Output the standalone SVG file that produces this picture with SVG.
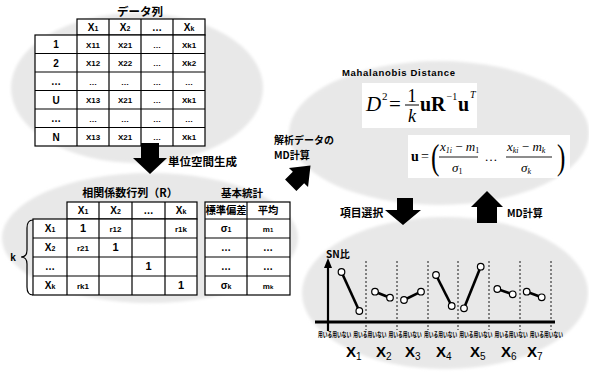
<svg xmlns="http://www.w3.org/2000/svg" width="589" height="372" viewBox="0 0 589 372">
<defs>
<filter id="soft" x="-10%" y="-10%" width="120%" height="120%"><feGaussianBlur stdDeviation="1.5"/></filter>
<style>
.bg{fill:#e8e8e8;filter:url(#soft)}
.cell{fill:#fff;stroke:#000;stroke-width:1.2}
.ln{stroke:#000;stroke-width:1.2;fill:none}
.t{font-family:"Liberation Sans",Arial,sans-serif;font-weight:bold;fill:#000;text-anchor:middle}
.s8{font-size:8px}
.s10{font-size:10px}
.j{font-family:"Noto Sans CJK JP",sans-serif;font-weight:bold;fill:#000}
.m{font-family:"Liberation Serif","Times New Roman",serif;fill:#000}
.dot{stroke:#000;stroke-width:0.9;stroke-dasharray:2 2}
.seg{stroke:#000;stroke-width:2.6}
.pt{fill:#fff;stroke:#000;stroke-width:1.2}
.arr{fill:#000}
.lab{font-family:"Noto Sans CJK JP",sans-serif;font-weight:bold;font-size:7px;fill:#000}
.xl{font-family:"Liberation Sans",Arial,sans-serif;font-weight:bold;font-size:15px;fill:#000}
</style>
</defs>

<!-- background ellipses -->
<ellipse class="bg" cx="137" cy="88" rx="126" ry="75"/>
<ellipse class="bg" cx="150" cy="238" rx="148" ry="65"/>
<ellipse class="bg" cx="439" cy="133" rx="150" ry="72"/>
<ellipse class="bg" cx="445" cy="293" rx="143" ry="76"/>

<!-- Data table -->
<g id="data-table">
<text class="j" x="140" y="16" font-size="11.5" text-anchor="middle">データ列</text>
<rect class="cell" x="77" y="19" width="128" height="16"/>
<rect class="cell" x="35" y="35" width="170" height="111"/>
<path class="ln" d="M109,19V146M141,19V146M173,19V146M77,35V146"/>
<path class="ln" d="M35,53.5H205M35,72H205M35,90.5H205M35,109H205M35,127.5H205"/>
<g class="t s10">
<text x="93" y="31">X<tspan font-size="7">1</tspan></text>
<text x="125" y="31">X<tspan font-size="7">2</tspan></text>
<text x="157" y="31">…</text>
<text x="189" y="31">X<tspan font-size="7">k</tspan></text>
<text x="56" y="48">1</text>
<text x="56" y="66.5">2</text>
<text x="56" y="85">…</text>
<text x="56" y="103.5">U</text>
<text x="56" y="122">…</text>
<text x="56" y="140.5">N</text>
</g>
<g class="t s8">
<text x="93" y="47.5">X11</text><text x="125" y="47.5">X21</text><text x="157" y="47.5">…</text><text x="189" y="47.5">Xk1</text>
<text x="93" y="66">X12</text><text x="125" y="66">X22</text><text x="157" y="66">…</text><text x="189" y="66">Xk2</text>
<text x="93" y="84.5">…</text><text x="125" y="84.5">…</text><text x="157" y="84.5">…</text><text x="189" y="84.5">…</text>
<text x="93" y="103">X13</text><text x="125" y="103">X21</text><text x="157" y="103">…</text><text x="189" y="103">Xk1</text>
<text x="93" y="121.5">…</text><text x="125" y="121.5">…</text><text x="157" y="121.5">…</text><text x="189" y="121.5">…</text>
<text x="93" y="140">X13</text><text x="125" y="140">X21</text><text x="157" y="140">…</text><text x="189" y="140">Xk1</text>
</g>
</g>

<!-- Correlation matrix -->
<g id="corr-matrix">
<text class="j" x="130" y="197" font-size="11" text-anchor="middle">相関係数行列（R）</text>
<rect class="cell" x="67" y="202" width="130" height="17"/>
<rect class="cell" x="33" y="219" width="164" height="76"/>
<path class="ln" d="M99,202V295M132,202V295M165,202V295M67,219V295"/>
<path class="ln" d="M33,238H197M33,257H197M33,276H197"/>
<g class="t s10">
<text x="83" y="214">X<tspan font-size="7">1</tspan></text>
<text x="115.5" y="214">X<tspan font-size="7">2</tspan></text>
<text x="148.5" y="214">…</text>
<text x="181" y="214">X<tspan font-size="7">k</tspan></text>
<text x="50" y="232">X<tspan font-size="7">1</tspan></text>
<text x="50" y="251">X<tspan font-size="7">2</tspan></text>
<text x="50" y="270">…</text>
<text x="50" y="289">X<tspan font-size="7">k</tspan></text>
<text x="83" y="232" font-size="11">1</text>
<text x="115.5" y="251" font-size="11">1</text>
<text x="148.5" y="270" font-size="11">1</text>
<text x="181" y="289" font-size="11">1</text>
</g>
<g class="t s8">
<text x="115.5" y="232">r12</text><text x="181" y="232">r1k</text>
<text x="83" y="251">r21</text>
<text x="83" y="289">rk1</text>
</g>
<path class="ln" d="M33,220Q27,220 27,228V250Q27,257 21,257Q27,257 27,264V287Q27,295 33,295"/>
<text class="t s10" x="13" y="261">k</text>
</g>

<!-- Basic statistics -->
<g id="basic-stats">
<text class="j" x="242" y="197" font-size="10.5" text-anchor="middle">基本統計</text>
<rect class="cell" x="205" y="202" width="85" height="93"/>
<path class="ln" d="M247,202V295M205,219H290M205,238H290M205,257H290M205,276H290"/>
<text class="j" x="226" y="214" font-size="10.3" text-anchor="middle">標準偏差</text>
<text class="j" x="268" y="214" font-size="10.3" text-anchor="middle">平均</text>
<g class="t s10">
<text x="226" y="232">σ<tspan font-size="7">1</tspan></text>
<text x="268" y="232" font-size="8">m<tspan font-size="6">1</tspan></text>
<text x="226" y="251">…</text><text x="268" y="251">…</text>
<text x="226" y="270">…</text><text x="268" y="270">…</text>
<text x="226" y="289">σ<tspan font-size="7">k</tspan></text>
<text x="268" y="289" font-size="8">m<tspan font-size="6">k</tspan></text>
</g>
</g>

<!-- Mahalanobis distance -->
<g id="mahalanobis">
<text x="342" y="76" font-family="Liberation Sans,Arial,sans-serif" font-weight="bold" font-size="9.5" textLength="113" lengthAdjust="spacing">Mahalanobis Distance</text>
<rect x="362" y="83" width="115" height="45" fill="#fff"/>
<g class="m">
<text x="366" y="111" font-size="21" font-style="italic">D</text>
<text x="382" y="100" font-size="11">2</text>
<text x="389" y="111" font-size="21">=</text>
<text x="412" y="102" font-size="18" text-anchor="middle">1</text>
<line x1="405" y1="105" x2="419" y2="105" stroke="#000" stroke-width="1"/>
<text x="412" y="122" font-size="18" font-style="italic" text-anchor="middle">k</text>
<text x="420" y="111" font-size="20" font-weight="bold">uR</text>
<text x="446.5" y="100" font-size="10">−1</text>
<text x="458" y="111" font-size="20" font-weight="bold">u</text>
<text x="470" y="98" font-size="10" font-style="italic">T</text>
</g>
<rect x="408" y="135" width="162" height="43" fill="#fff"/>
<g class="m">
<text x="411" y="161" font-size="14" font-weight="bold">u</text>
<text x="421" y="161" font-size="14">=</text>
<text x="431" y="169" font-size="36" transform="translate(431,160) scale(0.7,1) translate(-431,-160)">(</text>
<text x="440" y="151" font-size="13" font-style="italic">x<tspan font-size="8" dy="2">1i</tspan><tspan dy="-2" font-style="normal"> − </tspan>m<tspan font-size="8" dy="2" font-style="normal">1</tspan></text>
<line x1="439" y1="157" x2="478" y2="157" stroke="#000" stroke-width="0.9"/>
<text x="452" y="172" font-size="13" font-style="italic">σ<tspan font-size="8" dy="2" font-style="normal">1</tspan></text>
<text x="491" y="161" font-size="13" text-anchor="middle">…</text>
<text x="507" y="151" font-size="13" font-style="italic">x<tspan font-size="8" dy="2">ki</tspan><tspan dy="-2" font-style="normal"> − </tspan>m<tspan font-size="8" dy="2">k</tspan></text>
<line x1="506" y1="157" x2="552" y2="157" stroke="#000" stroke-width="0.9"/>
<text x="521" y="172" font-size="13" font-style="italic">σ<tspan font-size="8" dy="2">k</tspan></text>
<text x="557" y="169" font-size="36" transform="translate(557,160) scale(0.7,1) translate(-557,-160)">)</text>
</g>
</g>

<!-- SN chart -->
<g id="sn-chart">
<text class="j" x="326" y="258" font-size="10">SN比</text>
<path d="M328,331V266" stroke="#000" stroke-width="2.2"/>
<path d="M324,268L328,258L332,268Z" fill="#000"/>
<path d="M315,322H555" stroke="#000" stroke-width="3"/>
<g class="dot">
<line x1="366" y1="261" x2="366" y2="330"/>
<line x1="397" y1="261" x2="397" y2="330"/>
<line x1="428" y1="261" x2="428" y2="330"/>
<line x1="458" y1="261" x2="458" y2="330"/>
<line x1="489" y1="261" x2="489" y2="330"/>
<line x1="520" y1="261" x2="520" y2="330"/>
<line x1="551" y1="261" x2="551" y2="330"/>
</g>
<g class="seg">
<line x1="341.5" y1="272" x2="359.3" y2="311"/>
<line x1="375" y1="291.7" x2="390" y2="297.7"/>
<line x1="404" y1="300" x2="421" y2="291.7"/>
<line x1="436" y1="275" x2="451.7" y2="306"/>
<line x1="464" y1="308.3" x2="480.7" y2="266.7"/>
<line x1="497.3" y1="289" x2="512.7" y2="294.3"/>
<line x1="526.7" y1="291.7" x2="541.7" y2="297.3"/>
</g>
<g class="pt">
<circle cx="341.5" cy="272" r="3.3"/><circle cx="359.3" cy="311" r="3.3"/>
<circle cx="375" cy="291.7" r="3.3"/><circle cx="390" cy="297.7" r="3.3"/>
<circle cx="404" cy="300" r="3.3"/><circle cx="421" cy="291.7" r="3.3"/>
<circle cx="436" cy="275" r="3.3"/><circle cx="451.7" cy="306" r="3.3"/>
<circle cx="464" cy="308.3" r="3.3"/><circle cx="480.7" cy="266.7" r="3.3"/>
<circle cx="497.3" cy="289" r="3.3"/><circle cx="512.7" cy="294.3" r="3.3"/>
<circle cx="526.7" cy="291.7" r="3.3"/><circle cx="541.7" cy="297.3" r="3.3"/>
</g>
<g class="lab">
<text transform="matrix(0.68,0,0,1,318,337)">用いる用いない</text>
<text transform="matrix(0.68,0,0,1,353.3,337)">用いる用いない</text>
<text transform="matrix(0.68,0,0,1,388.6,337)">用いる用いない</text>
<text transform="matrix(0.68,0,0,1,423.9,337)">用いる用いない</text>
<text transform="matrix(0.68,0,0,1,459.2,337)">用いる用いない</text>
<text transform="matrix(0.68,0,0,1,494.5,337)">用いる用いない</text>
<text transform="matrix(0.68,0,0,1,529.8,337)">用いる用いない</text>
</g>
<g class="xl">
<text x="346" y="357">X<tspan font-size="10" font-weight="normal" dy="3">1</tspan></text>
<text x="376" y="357">X<tspan font-size="10" font-weight="normal" dy="3">2</tspan></text>
<text x="405" y="357">X<tspan font-size="10" font-weight="normal" dy="3">3</tspan></text>
<text x="436" y="357">X<tspan font-size="10" font-weight="normal" dy="3">4</tspan></text>
<text x="470" y="357">X<tspan font-size="10" font-weight="normal" dy="3">5</tspan></text>
<text x="501" y="357">X<tspan font-size="10" font-weight="normal" dy="3">6</tspan></text>
<text x="527" y="357">X<tspan font-size="10" font-weight="normal" dy="3">7</tspan></text>
</g>
</g>

<!-- connectors -->
<g id="connectors">
<polygon class="arr" points="141,143 159,143 159,158 167,158 150,174 133,158 141,158"/>
<text class="j" x="168" y="166" font-size="11.5">単位空間生成</text>
<polygon class="arr" transform="translate(298.5,177.5) rotate(45)" points="-8,11 -8,0 -13.5,0 0,-17 13.5,0 8,0 8,11"/>
<text class="j" x="274" y="144" font-size="10">解析データの</text>
<text class="j" x="274" y="158.5" font-size="10">MD計算</text>
<polygon class="arr" points="397,198 413,198 413,210 421,210 403,225 385,210 397,210"/>
<text class="j" x="340" y="217" font-size="10.8">項目選択</text>
<polygon class="arr" points="477,223 497,223 497,207 503,207 487,191 471,207 477,207"/>
<text class="j" x="507" y="217" font-size="10">MD計算</text>
</g>
</svg>
